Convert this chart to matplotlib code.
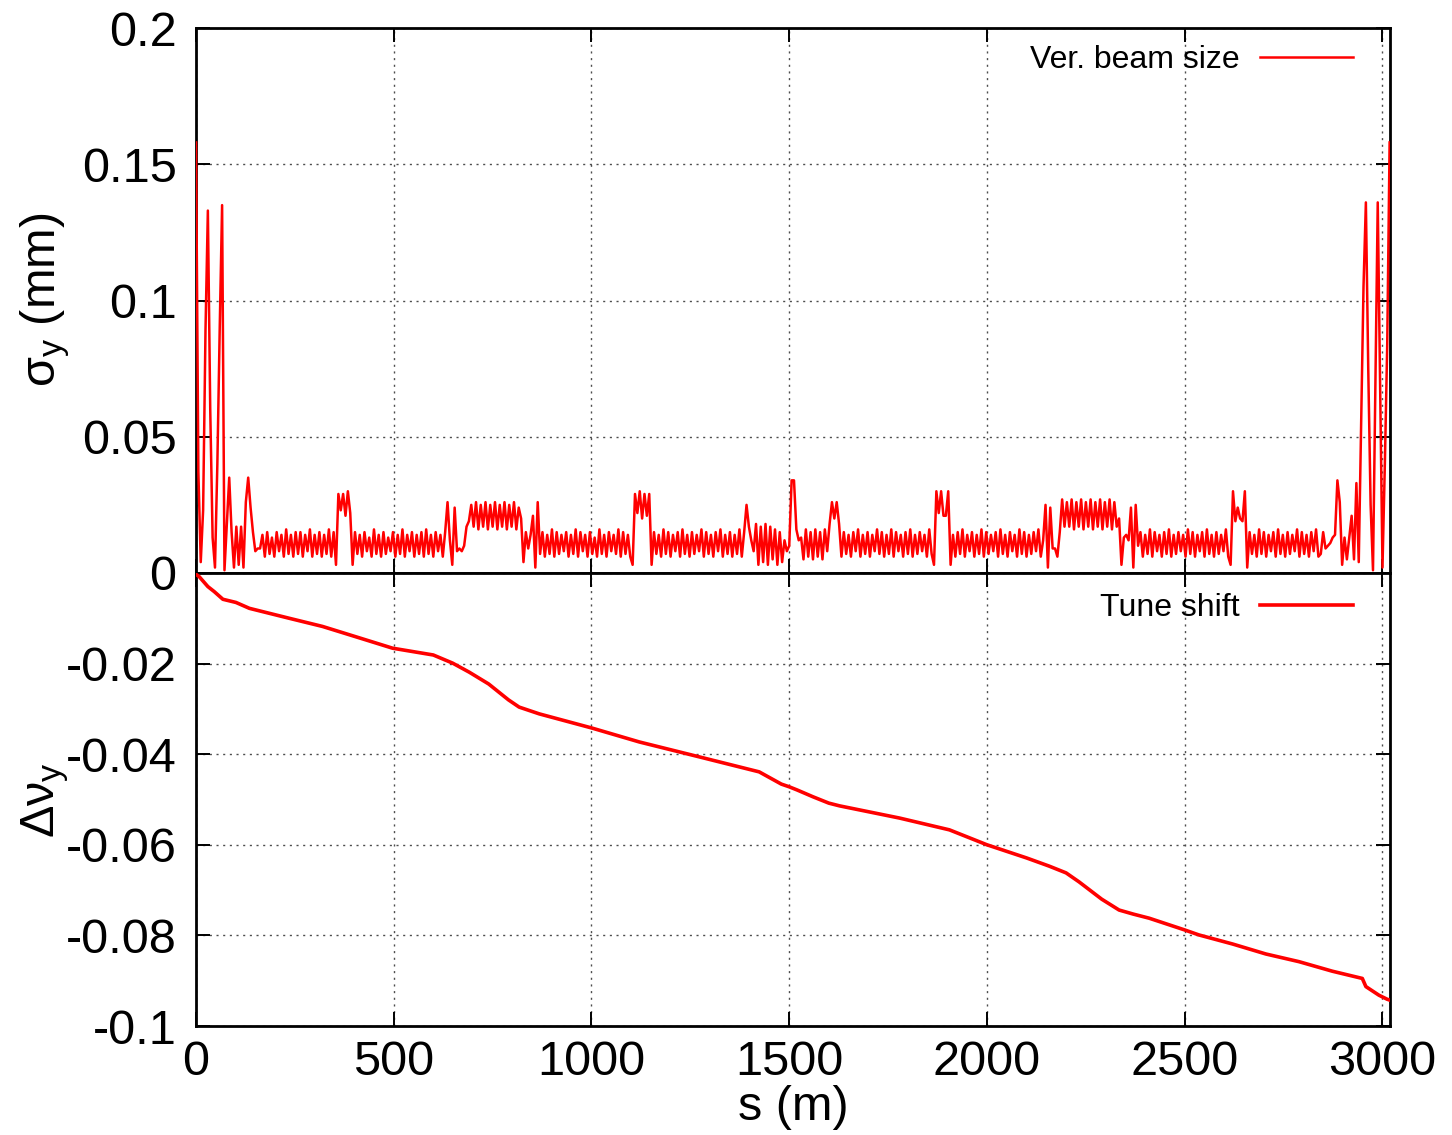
import numpy as np
import matplotlib
matplotlib.use("Agg")
from matplotlib import pyplot as plt

plt.rcParams['font.family'] = ['Liberation Sans', 'DejaVu Sans']
plt.rcParams['mathtext.fontset'] = 'custom'
plt.rcParams['mathtext.rm'] = 'Liberation Sans'
plt.rcParams['mathtext.it'] = 'Liberation Sans'
plt.rcParams['axes.unicode_minus'] = False

# vertical beam size, sampled every 6 m along s (values in micrometres)
s_step = 6.0
sigma_um = [
    158, 37, 4, 23, 89, 133, 60, 13, 2, 40, 90, 135, 1, 18, 35, 15, 2, 17, 3, 17,
    2, 26, 35, 24, 15, 8, 9, 9,
    14, 6, 15, 7, 13, 6, 15, 8, 14, 6, 16, 7, 14, 6, 15, 7, 15, 6, 14, 8,
    16, 6, 14, 7, 15, 6, 14, 7, 16, 6, 15,
    3, 29, 23, 29, 21, 30, 22, 3,
    15, 7, 14, 6, 15, 8, 13, 6, 16, 7, 14, 6, 15, 7, 13, 8, 15, 6, 14, 7,
    16, 6, 14, 8, 15, 6, 14, 7, 15, 6, 16, 7, 14, 6, 15, 8, 14, 6, 15,
    26, 12, 3, 24, 8, 9, 8, 10, 17,
    19, 25, 17, 26, 16, 25, 17, 26, 16, 25, 17, 26, 16, 25, 17, 26, 16, 25,
    17, 26, 16, 24, 20,
    4, 15, 9, 14, 21, 2, 26, 7,
    15, 6, 14, 7, 16, 6, 15, 7, 14, 8, 15, 6, 14, 7, 16, 6, 15, 8, 14, 6,
    15, 7, 13, 6, 16, 7, 14, 6, 15, 8, 14, 7, 16, 6, 15, 7, 14, 6,
    3, 29, 22, 30, 20, 29, 21, 29, 3,
    15, 7, 14, 6, 16, 7, 15, 6, 14, 8, 15, 6, 16, 7, 14, 6, 15, 7, 14, 8,
    16, 6, 15, 7, 14, 6, 15, 8, 16, 6, 14, 7, 15, 6, 14, 7, 16, 6, 15,
    25, 17, 12, 8, 18, 3, 17, 4, 18, 3, 17, 5, 16, 3, 15, 4, 12, 8,
    10, 34, 34, 16, 12, 13,
    5, 16, 6, 15, 5, 16, 6, 15, 5, 16, 8,
    18, 26, 20, 26, 18, 6,
    15, 7, 14, 6, 15, 8, 16, 6, 14, 7, 15, 6, 14, 8, 16, 7, 15, 6, 14, 7,
    16, 6, 15, 8, 14, 6, 15, 7, 16, 6, 14, 7, 15, 8, 14, 6, 16, 7,
    3, 30, 22, 30, 21, 21, 30, 3,
    14, 6, 15, 7, 16, 6, 14, 8, 15, 6, 14, 7, 16, 6, 15, 7, 14, 8, 15, 6,
    16, 7, 14, 6, 15, 8, 14, 6, 16, 7, 15, 6, 14, 7, 15, 8, 16, 6,
    12, 25, 2, 24, 9, 9, 6, 15, 27,
    17, 26, 17, 27, 16, 26, 17, 27, 16, 26, 17, 27, 16, 26, 17, 27, 16, 26,
    17, 27, 16, 26, 17,
    20, 3, 13, 14, 12, 24, 2, 25, 10,
    15, 6, 14, 7, 16, 6, 15, 8, 14, 6, 15, 7, 16, 6, 14, 7, 15, 8, 14, 6,
    16, 7, 15, 6, 14, 8, 15, 6, 16, 7, 14, 6, 15, 7, 14, 8, 16, 6,
    3, 30, 19, 24, 20, 19, 30, 2,
    15, 7, 14, 6, 16, 7, 15, 6, 14, 8, 15, 6, 16, 7, 14, 6, 15, 7, 14, 8,
    16, 6, 15, 7, 14, 6, 15, 8, 16, 6, 7, 15,
    9, 10, 11, 13, 14, 34, 26, 3, 13, 5, 13, 21, 5,
    33, 4, 55, 105, 136, 75, 25, 1, 68, 136, 70, 2, 40, 84, 158,
]

# vertical tune shift along the ring
s_tune = [0, 8, 30, 46, 68, 101, 135, 236, 320, 405,
          497, 600, 649, 691, 740, 790, 817, 868, 1000, 1121,
          1273, 1424, 1480, 1500, 1520, 1560, 1600, 1627, 1779, 1905,
          2000, 2100, 2157, 2200, 2233, 2290, 2334, 2370, 2410, 2500,
          2536, 2621, 2705, 2789, 2873, 2949, 2958, 2991, 3012, 3019]
dnu_milli = [-0.3, -0.8, -3.0, -4.1, -5.8, -6.5, -7.8, -10.0, -11.8, -14.1,
             -16.6, -18.1, -19.9, -21.9, -24.5, -28.0, -29.6, -31.1, -34.2, -37.3,
             -40.6, -43.9, -46.6, -47.2, -47.9, -49.4, -50.8, -51.4, -54.1, -56.7,
             -60.0, -62.9, -64.7, -66.2, -68.2, -72.0, -74.4, -75.3, -76.2, -78.8,
             -79.9, -81.9, -84.1, -85.8, -87.9, -89.5, -91.3, -93.2, -94.1, -94.3]

x_ticks = [0, 500, 1000, 1500, 2000, 2500, 3000]
top_ticks = [0, 0.05, 0.1, 0.15, 0.2]
top_labels = ['0', '0.05', '0.1', '0.15', '0.2']
bot_ticks = [-0.1, -0.08, -0.06, -0.04, -0.02, 0]
bot_labels = ['-0.1', '-0.08', '-0.06', '-0.04', '-0.02', '']

sig = np.array(sigma_um) * 1e-3
s_sig = np.arange(len(sig)) * s_step
dnu = np.array(dnu_milli) * 1e-3

W, H = 1452, 1135
fig = plt.figure(figsize=(W / 100, H / 100), dpi=100)
L, R = 196, 1390
ax1 = fig.add_axes([L / W, 1 - 573 / H, (R - L) / W, (573 - 28) / H])
ax2 = fig.add_axes([L / W, 1 - 1026 / H, (R - L) / W, (1026 - 573) / H])

red = '#ff0000'
ax1.plot(s_sig, sig, color=red, lw=1.8, label='Ver. beam size', zorder=3)
ax2.plot(s_tune, dnu, color=red, lw=2.6, label='Tune shift', zorder=3)

for ax in (ax1, ax2):
    ax.set_xlim(0, 3019)
    ax.set_xticks(x_ticks)
    ax.grid(True, color='0.3', lw=1.0, linestyle=(0, (1.5, 3.3)), zorder=0)
    ax.tick_params(direction='in', top=True, right=True, length=10, width=1.4,
                   labelsize=35, pad=14)
    for sp in ax.spines.values():
        sp.set_linewidth(2.0)

ax1.set_ylim(0, 0.2)
ax1.set_yticks(top_ticks)
ax1.set_yticklabels(top_labels)
ax1.tick_params(labelbottom=False)

ax2.set_ylim(-0.1, 0)
ax2.set_yticks(bot_ticks)
ax2.set_yticklabels(bot_labels)
ax2.set_xticklabels([str(t) for t in x_ticks])
ax2.tick_params(axis='x', pad=10)

ax1.legend(loc='upper right', bbox_to_anchor=(0.969, 0.968), frameon=False,
           markerfirst=False, fontsize=23, handlelength=2.9, handletextpad=0.66,
           borderpad=0, borderaxespad=0)
ax2.legend(loc='upper right', bbox_to_anchor=(0.969, 0.956), frameon=False,
           markerfirst=False, fontsize=23, handlelength=2.9, handletextpad=0.66,
           borderpad=0, borderaxespad=0)

fig.text(45 / W, 1 - 300 / H, r'$\sigma_{y}$ (mm)', rotation=90, fontsize=35,
         ha='center', va='center')
fig.text(45 / W, 1 - 800 / H, r'$\Delta\nu_{y}$', rotation=90, fontsize=35,
         ha='center', va='center')
fig.text((L + R) / 2 / W, 1 - 1107 / H, 's (m)', fontsize=35,
         ha='center', va='center')

fig.savefig('out.png', dpi=100)
